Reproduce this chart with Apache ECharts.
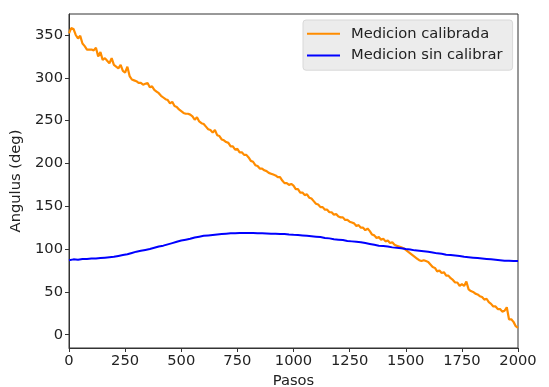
<!DOCTYPE html>
<html>
<head>
<meta charset="utf-8">
<script src="https://cdn.jsdelivr.net/npm/echarts@6/dist/echarts.min.js"></script>
<style>
html,body{margin:0;padding:0;background:#fff;}
#chart{width:549px;height:387px;}
</style>
</head>
<body>
<div id="chart"></div>
<script>
// Calibrated measurement, every 10 steps from 0 to 2000
const stepsCal = [];
for (let s = 0; s <= 2000; s += 10) stepsCal.push(s);
const calibrada = [
352,358,357,350,346,349,340,337,333,333,
333,332,335,325,330,321,323,320,317,323,
315,313,311,315,308,306,313,302,298,297,
296,294,294,292,293,294,289,290,286,284,
282,279,277,275,274,270,272,267,266,263,
261,259,258,258,257,255,251,254,249,247,
246,243,240,239,236,239,233,232,228,227,
225,224,220,220,216,217,213,213,210,210,
207,203,202,198,197,194,194,192,191,189,
188,187,186,184,184,180,177,177,175,176,
174,170,170,166,166,163,164,160,159,156,
153,152,149,149,146,146,143,143,140,141,
138,137,137,134,134,132,131,130,127,128,
125,125,122,124,121,117,116,113,114,111,
112,109,110,107,108,105,104,103,102,101,
99,97,95,93,91,89,87,86,87,86,
85,82,79,78,74,75,72,73,69,69,
66,64,61,61,57,59,57,62,53,51,
50,48,47,45,44,41,42,38,36,33,
33,30,30,27,28,32,18,18,15,10,
8
];
// Uncalibrated measurement, every 20 steps from 0 to 2000
const stepsRaw = [];
for (let s = 0; s <= 2000; s += 20) stepsRaw.push(s);
const sinCalibrar = [
87,88,87.5,88.5,88.5,89,89,89.5,90,90.5,
91,92,93,94,95.5,97,98,99,100,101.5,
103,104,105.5,107,108.5,110,111,112,113.5,114.5,
115.5,116,116.5,117,117.5,118,118.5,118.5,118.7,118.7,
118.7,118.7,118.5,118.5,118.3,118,118,117.5,117.5,117,
116.7,116.5,116,115.5,115,114.5,114,113,112.5,111.5,
111,110.5,109.5,109,108.5,108,107,106,105,104,
103.5,103,102,101.5,101,100,99.5,98.5,98,97.5,
97,96,95,94.5,93.5,93,92.5,92,91,90.5,
90,89.5,89,88.5,88,87.5,87,86.5,86.5,86,
86
];
const xTicks = [0,250,500,750,1000,1250,1500,1750,2000];
const yTicks = [0,50,100,150,200,250,300,350];
const seriesNames = ['Medicion calibrada','Medicion sin calibrar'];

const font = 'DejaVu Sans';
const fs = 14.7;
const chart = echarts.init(document.getElementById('chart'));
const axisCommon = {
  axisLine:{show:true,onZero:false,lineStyle:{color:'#333',width:1}},
  axisTick:{show:true,inside:false,length:4,lineStyle:{color:'#333',width:1}},
  splitLine:{show:false},
  axisLabel:{color:'#222',fontFamily:font,fontSize:fs,margin:6,formatter:v=>String(v)}
};
chart.setOption({
  animation:false,
  backgroundColor:'#fff',
  grid:{left:69,right:31,top:14,bottom:39,containLabel:false,outerBoundsMode:'none',
        show:true,borderColor:'#333',borderWidth:1,backgroundColor:'transparent'},
  legend:{
    data:seriesNames,
    orient:'vertical',
    left:303,top:20,
    padding:[3,10,4,4],
    itemGap:0,
    itemWidth:33,itemHeight:2,
    icon:'rect',
    backgroundColor:'#ececec',
    borderColor:'#d8d8d8',borderWidth:1,borderRadius:3,
    textStyle:{fontFamily:font,fontSize:fs,color:'#222',lineHeight:21.6,padding:[0,0,0,6]}
  },
  xAxis:Object.assign({}, axisCommon, {
    type:'value',min:0,max:2000,interval:250,
    name:'Pasos',nameLocation:'middle',nameGap:25,
    nameTextStyle:{fontFamily:font,fontSize:fs,color:'#222'},
    axisLabel:Object.assign({}, axisCommon.axisLabel, {customValues:xTicks}),
    axisTick:Object.assign({}, axisCommon.axisTick, {customValues:xTicks})
  }),
  yAxis:Object.assign({}, axisCommon, {
    type:'value',min:-15.5,max:374.5,
    name:'Angulus (deg)',nameLocation:'middle',nameGap:38,
    nameTextStyle:{fontFamily:font,fontSize:fs,color:'#222'},
    axisLabel:Object.assign({}, axisCommon.axisLabel, {customValues:yTicks}),
    axisTick:Object.assign({}, axisCommon.axisTick, {customValues:yTicks})
  }),
  series:[
    {name:seriesNames[0],type:'line',showSymbol:false,symbol:'none',
     data:stepsCal.map((s,i)=>[s,calibrada[i]]),
     lineStyle:{color:'#ff8c00',width:2.2},itemStyle:{color:'#ff8c00'}},
    {name:seriesNames[1],type:'line',showSymbol:false,symbol:'none',
     data:stepsRaw.map((s,i)=>[s,sinCalibrar[i]]),
     lineStyle:{color:'#0000ff',width:2},itemStyle:{color:'#0000ff'}}
  ]
});
</script>
</body>
</html>
